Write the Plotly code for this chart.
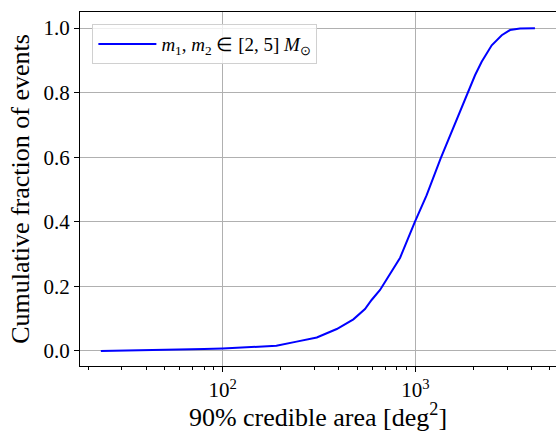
import plotly.graph_objects as go

# Cumulative distribution of 90% credible sky areas
area_deg2 = [23.3, 40, 60, 80, 100, 139, 190, 242, 308, 391, 477, 548, 593,
             656, 834, 995, 1144, 1351, 1574, 1816, 2042, 2211, 2493, 2810,
             3102, 3497, 4180]
cum_fraction = [0.0, 0.002, 0.004, 0.006, 0.008, 0.0115, 0.016, 0.029, 0.042,
                0.068, 0.098, 0.13, 0.158, 0.189, 0.289, 0.40, 0.482, 0.595,
                0.69, 0.777, 0.854, 0.896, 0.947, 0.978, 0.994, 0.999, 1.0]

series_name = "<i>m</i><sub>1</sub>, <i>m</i><sub>2</sub> \u2208 [2, 5] <i>M</i><sub>\u2299</sub>"

x_major = [100, 1000]
x_major_text = ["10<sup>2</sup>", "10<sup>3</sup>"]
x_minor = [20, 30, 40, 50, 60, 70, 80, 90,
           200, 300, 400, 500, 600, 700, 800, 900,
           2000, 3000, 4000, 5000]
y_ticks = [0.0, 0.2, 0.4, 0.6, 0.8, 1.0]

serif = "Liberation Serif, Times New Roman, serif"

fig = go.Figure()
fig.add_trace(go.Scatter(
    x=area_deg2, y=cum_fraction, mode="lines",
    line=dict(color="#0000ff", width=2),
    name=series_name, showlegend=True,
))

fig.update_layout(
    width=556, height=432,
    margin=dict(l=80, r=0, t=12, b=66),
    paper_bgcolor="white", plot_bgcolor="white",
    font=dict(family=serif, color="black"),
    showlegend=True,
    legend=dict(
        x=0.026, y=0.966, xanchor="left", yanchor="top",
        bgcolor="rgba(255,255,255,0.8)", bordercolor="#d0d0d0", borderwidth=1,
        font=dict(family=serif, size=19, color="black"),
        itemwidth=58,
    ),
    xaxis=dict(
        type="log", range=[1.2591, 3.7305],
        tickmode="array", tickvals=x_major, ticktext=x_major_text,
        ticks="outside", ticklen=5, tickwidth=1.2, tickcolor="black",
        showgrid=True, gridcolor="#b0b0b0", gridwidth=1,
        showline=True, linecolor="black", linewidth=1.3, mirror=True,
        zeroline=False,
        tickfont=dict(family=serif, size=21),
        minor=dict(tickmode="array", tickvals=x_minor, ticks="outside",
                   ticklen=3, tickwidth=1, tickcolor="black", showgrid=False),
        title=dict(text="90% credible area [deg<sup>2</sup>]",
                   font=dict(family=serif, size=26), standoff=6),
    ),
    yaxis=dict(
        range=[-0.0465, 1.05],
        tickmode="array", tickvals=y_ticks,
        ticktext=[f"{v:.1f}" for v in y_ticks],
        ticks="outside", ticklen=5, tickwidth=1.2, tickcolor="black",
        showgrid=True, gridcolor="#b0b0b0", gridwidth=1,
        showline=True, linecolor="black", linewidth=1.3, mirror=False,
        zeroline=False,
        tickfont=dict(family=serif, size=21),
        title=dict(text="Cumulative fraction of events",
                   font=dict(family=serif, size=26), standoff=6),
    ),
)

fig.write_html("out.html")
